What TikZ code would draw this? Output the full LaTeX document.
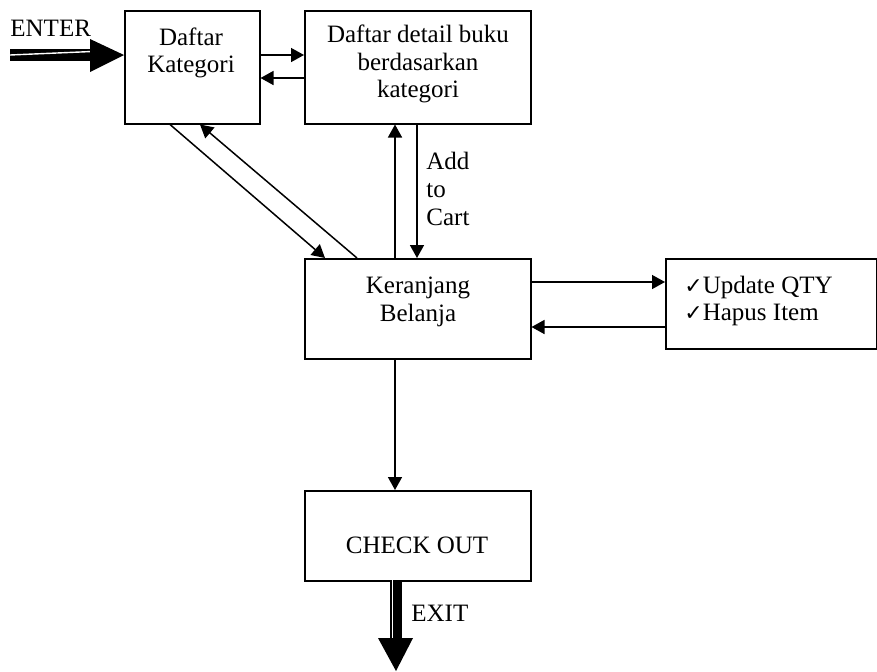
\documentclass[tikz,border=0pt]{standalone}
\usepackage{fontspec}
\setmainfont{Liberation Serif}
\newfontfamily\symfont{DejaVu Sans}
\usetikzlibrary{arrows.meta}
\begin{document}
\begin{tikzpicture}[x=0.5pt,y=-0.5pt,
  box/.style={draw,line width=0.75pt,inner sep=0pt,anchor=north west},
  txt/.style={align=center,font=\fontsize{12.5}{13.8}\selectfont,inner sep=0pt},
  chk/.style={font=\symfont\fontsize{12}{13}\selectfont},
  conn/.style={line width=0.75pt,-{Triangle[length=6.5pt,width=7pt]}},
  fat/.style={line width=6pt}]
\useasboundingbox (0,0) rectangle (877,671);
% boxes
\node[box,minimum width=135*0.5pt,minimum height=113*0.5pt] (kat) at (124,10) {};
\node[box,minimum width=226*0.5pt,minimum height=113*0.5pt] (det) at (304,10) {};
\node[box,minimum width=226*0.5pt,minimum height=100*0.5pt] (ker) at (304,258) {};
\node[box,minimum width=211*0.5pt,minimum height=90*0.5pt] (upd) at (665,258) {};
\node[box,minimum width=226*0.5pt,minimum height=90*0.5pt] (chk) at (304,490) {};
% texts
\node[txt] (tkat) at (191,53) {Daftar\\Kategori};
\node[txt] (tdet) at (418,64) {Daftar detail buku\\berdasarkan\\kategori};
\node[txt] (tker) at (418,302) {Keranjang\\Belanja};
\node[txt,align=left,anchor=west] (tupd) at (684,301) {{\symfont\fontsize{11}{12}\selectfont ✓}Update QTY\\{\symfont\fontsize{11}{12}\selectfont ✓}Hapus Item};
\node[txt] (tchk) at (417,545) {CHECK OUT};
\node[txt,align=left,anchor=west] (tcart) at (426,189) {Add\\to\\Cart};
\node[txt,anchor=south west] (tent) at (10,37) {ENTER};
\node[txt,anchor=west] (texit) at (411,613) {EXIT};
% coordinates for free ends
\coordinate (enterstart) at (10,55);
\coordinate (exitend) at (396,671);
% connectors
\draw[conn] ([yshift=-45*0.5pt]kat.north east) -- ([yshift=-45*0.5pt]det.north west);
\draw[conn] ([yshift=-68*0.5pt]det.north west) -- ([yshift=-68*0.5pt]kat.north east);
\draw[conn] ([xshift=46*0.5pt]kat.south west) -- ([xshift=21*0.5pt]ker.north west);
\draw[conn] ([xshift=53*0.5pt]ker.north west) -- ([xshift=76*0.5pt]kat.south west);
\draw[conn] ([xshift=91*0.5pt]ker.north west) -- ([xshift=91*0.5pt]det.south west);
\draw[conn] ([xshift=113*0.5pt]det.south west) -- ([xshift=113*0.5pt]ker.north west);
\draw[conn] ([yshift=-24*0.5pt]ker.north east) -- ([yshift=-24*0.5pt]upd.north west);
\draw[conn] ([yshift=-69*0.5pt]upd.north west) -- ([yshift=-69*0.5pt]ker.north east);
\draw[conn] ([xshift=91*0.5pt]ker.south west) -- ([xshift=91*0.5pt]chk.north west);
% ENTER fat arrow
\draw[fat] (enterstart) -- (92,55);
\draw[white,line width=0.7pt] (enterstart) -- (92,51.5);
\fill (90,39) -- ([yshift=-45*0.5pt]kat.north west) -- (90,72) -- cycle;
% EXIT fat arrow
\draw[fat] ([xshift=92*0.5pt]chk.south west) -- (396,640);
\draw[white,line width=0.7pt] (392.5,580) -- (392.5,640);
\fill (378,638) -- (exitend) -- (413,638) -- cycle;
\end{tikzpicture}
\end{document}
